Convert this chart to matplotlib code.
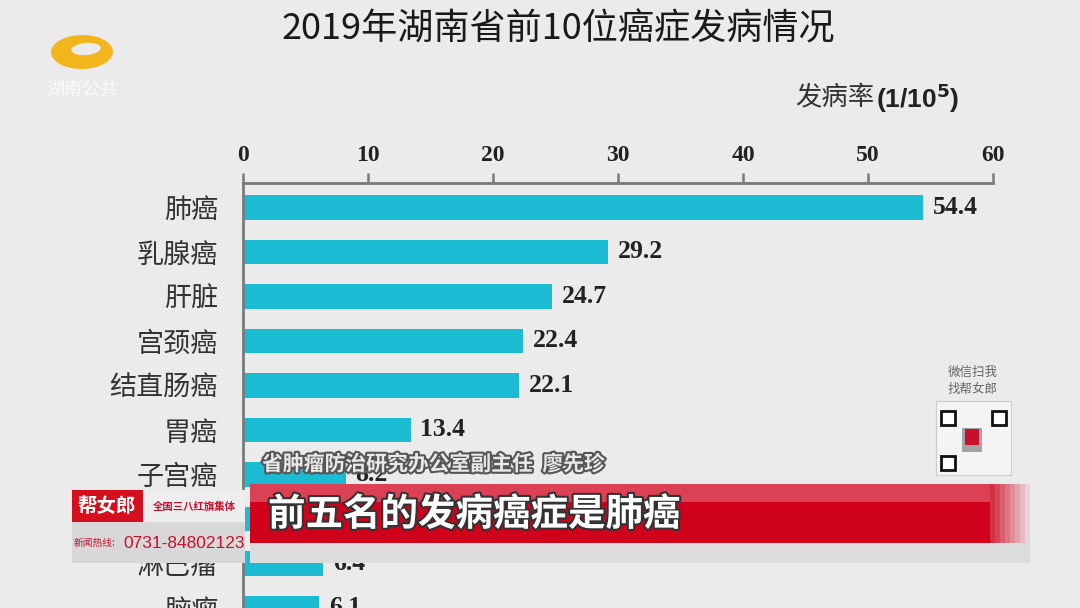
import numpy as np
import matplotlib.pyplot as plt
import matplotlib.patches as mpatches
import matplotlib.patheffects as pe

# 数据
categorias = ['肺癌', '乳腺癌', '肝脏', '宫颈癌', '结直肠癌', '胃癌', '子宫癌', '甲状腺癌', '淋巴瘤', '脑瘤']
valores = [54.4, 29.2, 24.7, 22.4, 22.1, 13.4, 8.2, 7.0, 6.4, 6.1]
ticks_x = [0, 10, 20, 30, 40, 50, 60]

CJK = ['Noto Sans CJK SC', 'DejaVu Sans']
SERIF = ['Liberation Serif', 'DejaVu Serif']
SANS = ['Liberation Sans', 'DejaVu Sans']
BG = '#ebebec'
CYAN = '#1bbcd3'

W, H = 1080, 608


def fx(x):
    return x / W


def fy(y):
    return 1 - y / H


fig = plt.figure(figsize=(10.8, 6.08), dpi=100, facecolor=BG)

# Eje principal (barras horizontales)
ax = fig.add_axes([fx(243), 0, fx(993) - fx(243), fy(183)])
ax.set_facecolor(BG)
y = np.arange(len(categorias))
ax.barh(y, valores, height=0.56, color=CYAN, zorder=2)
for yi, v in zip(y, valores):
    ax.text(v + 0.8, yi, f'{v:.1f}', va='center', ha='left', fontsize=18.5,
            fontweight='bold', family=SERIF, color='#222222')

ax.set_xlim(0, 60)
ax.set_ylim(8.89, -0.55)
ax.xaxis.tick_top()
ax.set_xticks(ticks_x)
ax.set_xticklabels([str(t) for t in ticks_x], fontsize=17, fontweight='bold', family=SERIF, color='#222222')
ax.tick_params(axis='x', direction='out', length=7, width=1.8, color='#7a7a7a', pad=5)
ax.set_yticks(y)
ax.set_yticklabels(categorias, family=CJK, fontsize=19.5, color='#333333')
ax.tick_params(axis='y', length=0, pad=18)
for s in ['right', 'bottom']:
    ax.spines[s].set_visible(False)
for s in ['top', 'left']:
    ax.spines[s].set_color('#7a7a7a')
    ax.spines[s].set_linewidth(2)

# Títulos
fig.text(fx(558), fy(29), '2019年湖南省前10位癌症发病情况', ha='center', va='center',
         fontsize=26, family=CJK, color='#1a1a1a')
fig.text(fx(874), fy(98), '发病率', ha='right', va='center', fontsize=19, family=CJK, color='#333333')
fig.text(fx(876), fy(98), '(1/10$^{\\mathbf{5}}$)', ha='left', va='center', fontsize=19, fontweight='bold',
         family=SANS, color='#222222')

# Logo (esquina superior izquierda)
fig.patches.append(mpatches.Ellipse((fx(82), fy(52)), fx(62), 34 / H, angle=15,
                                    transform=fig.transFigure, facecolor='#f2b61c', edgecolor='none'))
fig.patches.append(mpatches.Ellipse((fx(86), fy(49)), fx(30), 12 / H, angle=15,
                                    transform=fig.transFigure, facecolor=BG, edgecolor='none'))
fig.text(fx(82), fy(90), '湖南公共', ha='center', va='center', fontsize=13, family=CJK,
         color='#ffffff', alpha=0.8)

# Franja inferior (rótulo de TV)
fig.patches.append(mpatches.Rectangle((fx(250), fy(563)), fx(780), 20 / H, transform=fig.transFigure,
                                      facecolor='#dcdcdc', edgecolor='none'))
fig.patches.append(mpatches.Rectangle((fx(250), fy(543)), fx(740), 59 / H, transform=fig.transFigure,
                                      facecolor='#d0021b', edgecolor='none'))
fig.patches.append(mpatches.Rectangle((fx(250), fy(502)), fx(740), 18 / H, transform=fig.transFigure,
                                      facecolor='#dc4055', edgecolor='none'))
for i in range(8):
    fig.patches.append(mpatches.Rectangle((fx(990 + i * 5), fy(543)), fx(5), 59 / H,
                                          transform=fig.transFigure, facecolor='#d0021b',
                                          edgecolor='none', alpha=0.8 - i * 0.1))
fig.text(fx(268), fy(514), '前五名的发病癌症是肺癌', ha='left', va='center', fontsize=27,
         fontweight='bold', family=CJK, color='white',
         path_effects=[pe.withStroke(linewidth=3, foreground='#333333')])
fig.text(fx(262), fy(464), '省肿瘤防治研究办公室副主任  廖先珍', ha='left', va='center', fontsize=15,
         fontweight='bold', family=CJK, color='#e8e8e8',
         path_effects=[pe.withStroke(linewidth=3, foreground='#555555')])

# Caja izquierda
fig.patches.append(mpatches.Rectangle((fx(72), fy(563)), fx(173), 73 / H, transform=fig.transFigure,
                                      facecolor='#d8d8d8', edgecolor='none'))
fig.patches.append(mpatches.Rectangle((fx(143), fy(522)), fx(102), 32 / H, transform=fig.transFigure,
                                      facecolor='#eeeeee', edgecolor='none'))
fig.patches.append(mpatches.Rectangle((fx(72), fy(522)), fx(71), 32 / H, transform=fig.transFigure,
                                      facecolor='#d4101e', edgecolor='none'))
fig.text(fx(107), fy(506), '帮女郎', ha='center', va='center', fontsize=14, fontweight='bold',
         family=CJK, color='white')
fig.text(fx(194), fy(507), '全国三八红旗集体', ha='center', va='center', fontsize=7.5,
         fontweight='bold', family=CJK, color='#c8102e')
fig.text(fx(74), fy(543), '新闻热线:', ha='left', va='center', fontsize=7, family=CJK, color='#c8102e')
fig.text(fx(123), fy(543), '0731-84802123', ha='left', va='center', fontsize=12.5, family=SANS,
         color='#c8102e')

# Código QR (simplificado)
fig.text(fx(973), fy(372), '微信扫我', ha='center', va='center', fontsize=9, family=CJK, color='#666666')
fig.text(fx(973), fy(389), '找帮女郎', ha='center', va='center', fontsize=9, family=CJK, color='#666666')
fig.patches.append(mpatches.Rectangle((fx(936), fy(475)), fx(75), 74 / H, transform=fig.transFigure,
                                      facecolor='#f4f4f4', edgecolor='#cccccc', lw=0.8))
for qx, qy in [(941, 425), (992, 425), (941, 470)]:
    fig.patches.append(mpatches.Rectangle((fx(qx), fy(qy)), fx(14), 14 / H, transform=fig.transFigure,
                                          facecolor='white', edgecolor='#111111', lw=2))
fig.patches.append(mpatches.Rectangle((fx(962), fy(452)), fx(20), 24 / H, transform=fig.transFigure,
                                      facecolor='#555555', edgecolor='none', alpha=0.5))
fig.patches.append(mpatches.Rectangle((fx(965), fy(445)), fx(14), 16 / H, transform=fig.transFigure,
                                      facecolor='#c8102e', edgecolor='none'))

fig.savefig('out.png', dpi=100, facecolor=BG)
